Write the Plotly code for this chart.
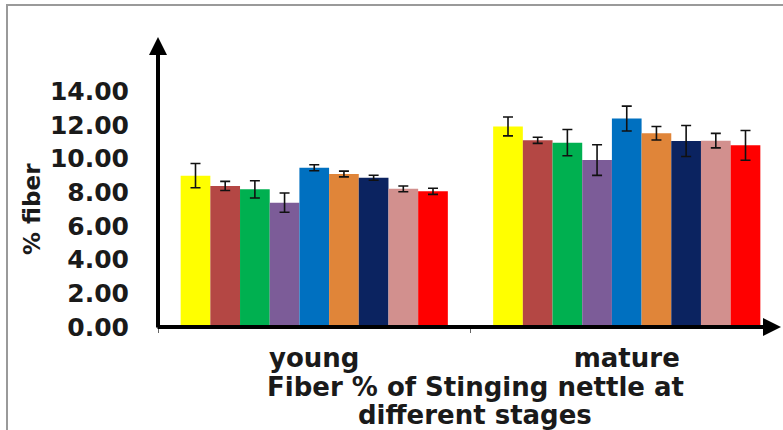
import plotly.graph_objects as go

categories = ["young", "mature"]
series_names = ["S1", "S2", "S3", "S4", "S5", "S6", "S7", "S8", "S9"]
colors = ["#FFFF00", "#B44744", "#00B050", "#7C5C98", "#0070C0",
          "#E08539", "#0B2360", "#D2908E", "#FF0000"]
young = [8.98, 8.37, 8.17, 7.38, 9.45, 9.08, 8.86, 8.2, 8.05]
mature = [11.9, 11.08, 10.94, 9.91, 12.37, 11.5, 11.04, 11.06, 10.78]
err_young = [0.72, 0.27, 0.51, 0.57, 0.18, 0.17, 0.15, 0.17, 0.18]
err_mature = [0.56, 0.18, 0.78, 0.91, 0.74, 0.4, 0.92, 0.43, 0.88]
y_ticks = [0, 2, 4, 6, 8, 10, 12, 14]
y_title = "% fiber"
x_title_1 = "Fiber % of Stinging nettle at"
x_title_2 = "different stages"

FONT = "DejaVu Sans"
W, H = 783, 430
L, R, T, B = 158, 0, 45, 103
PW, PH = W - L - R, H - T - B
px_per_unit = 16.85
ymax = PH / px_per_unit

def px_x(p):
    return (p - L) / PW

def px_y(p):
    return (H - B - p) / PH

fig = go.Figure()
for i, name in enumerate(series_names):
    fig.add_trace(go.Bar(
        name=name, x=categories, y=[young[i], mature[i]],
        marker=dict(color=colors[i], line=dict(width=0)),
        error_y=dict(type="data", array=[err_young[i], err_mature[i]],
                     color="#111111", thickness=1.6, width=5),
        showlegend=False,
    ))

fig.update_layout(
    width=W, height=H,
    margin=dict(l=L, r=R, t=T, b=B),
    paper_bgcolor="white", plot_bgcolor="white",
    barmode="group", bargap=0.145, bargroupgap=0,
    font=dict(family=FONT, color="#1a1a1a"),
    xaxis=dict(
        range=[-0.5, 1.5], showline=False, showgrid=False, zeroline=False,
        ticks="outside", tickson="boundaries", ticklen=5, tickwidth=1,
        tickcolor="#666666", ticklabelstandoff=13,
        tickfont=dict(family=FONT, size=26, weight="bold", color="#1a1a1a"),
    ),
    yaxis=dict(
        range=[0, ymax], showline=False, showgrid=False, zeroline=False,
        tickvals=y_ticks, ticktext=[f"{v:.2f}" for v in y_ticks],
        ticks="", ticklabelstandoff=28,
        tickfont=dict(family=FONT, size=25, weight="bold", color="#1a1a1a"),
    ),
    shapes=[dict(type="rect", xref="paper", yref="paper",
                 x0=px_x(7), x1=px_x(800), y0=px_y(460), y1=px_y(5),
                 line=dict(color="#9a9a9a", width=2), fillcolor="rgba(0,0,0,0)",
                 layer="below")],
    annotations=[
        # y axis arrow
        dict(xref="paper", yref="paper", x=0, y=px_y(37), text="",
             showarrow=True, ax=0, ay=329 - 37, axref="pixel", ayref="pixel",
             arrowhead=2, arrowsize=0.9, arrowwidth=4, arrowcolor="black"),
        # x axis arrow
        dict(xref="paper", yref="paper", x=px_x(781), y=0, text="",
             showarrow=True, ax=-(781 - 156), ay=0, axref="pixel", ayref="pixel",
             arrowhead=2, arrowsize=0.9, arrowwidth=4, arrowcolor="black"),
        dict(xref="paper", yref="paper", x=px_x(32), y=px_y(209), text=y_title,
             textangle=-90, showarrow=False, xanchor="center", yanchor="middle",
             font=dict(family=FONT, size=23, weight="bold", color="#1a1a1a")),
        dict(xref="paper", yref="paper", x=px_x(475), y=px_y(387), text=x_title_1,
             showarrow=False, xanchor="center", yanchor="middle",
             font=dict(family=FONT, size=26, weight="bold", color="#1a1a1a")),
        dict(xref="paper", yref="paper", x=px_x(475), y=px_y(415), text=x_title_2,
             showarrow=False, xanchor="center", yanchor="middle",
             font=dict(family=FONT, size=26, weight="bold", color="#1a1a1a")),
    ],
)

fig.write_html(
    "out.html",
    config={"displayModeBar": False},
    post_script="document.body.style.margin='0';document.body.style.overflow='hidden';",
)
